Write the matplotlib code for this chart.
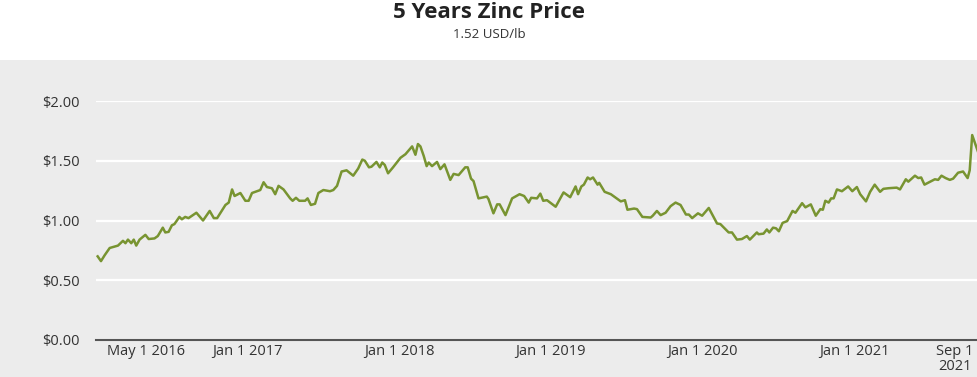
import numpy as np
import pandas as pd
import matplotlib
matplotlib.use('Agg')
import matplotlib.pyplot as plt
from matplotlib.patches import Rectangle

# weekly-ish zinc price
dates = [
    '2016-01-05', '2016-01-13', '2016-01-22', '2016-02-03', '2016-02-23', '2016-03-06',
    '2016-03-12', '2016-03-18', '2016-03-26', '2016-04-01', '2016-04-07', '2016-04-15',
    '2016-04-29', '2016-05-07', '2016-05-21', '2016-05-29', '2016-06-10', '2016-06-16',
    '2016-06-24', '2016-07-02', '2016-07-08', '2016-07-20', '2016-07-26', '2016-08-03',
    '2016-08-11', '2016-08-30', '2016-09-15', '2016-10-01', '2016-10-11', '2016-10-19',
    '2016-11-08', '2016-11-16', '2016-11-24', '2016-11-30', '2016-12-14', '2016-12-26',
    '2017-01-03', '2017-01-11', '2017-01-31', '2017-02-08', '2017-02-16', '2017-02-28',
    '2017-03-08', '2017-03-16', '2017-03-28', '2017-04-13', '2017-04-19', '2017-04-27',
    '2017-05-05', '2017-05-19', '2017-05-25', '2017-06-02', '2017-06-12', '2017-06-20',
    '2017-07-02', '2017-07-18', '2017-07-26', '2017-08-04', '2017-08-15', '2017-08-27',
    '2017-09-12', '2017-09-24', '2017-10-04', '2017-10-10', '2017-10-20', '2017-10-26',
    '2017-11-07', '2017-11-15', '2017-11-21', '2017-11-27', '2017-12-05', '2017-12-17',
    '2018-01-04', '2018-01-16', '2018-02-01', '2018-02-09', '2018-02-15', '2018-02-21',
    '2018-03-01', '2018-03-08', '2018-03-13', '2018-03-21', '2018-04-02', '2018-04-10',
    '2018-04-20', '2018-05-04', '2018-05-12', '2018-05-24', '2018-06-09', '2018-06-15',
    '2018-06-23', '2018-06-29', '2018-07-11', '2018-07-31', '2018-08-04', '2018-08-16',
    '2018-08-25', '2018-08-31', '2018-09-14', '2018-09-30', '2018-10-18', '2018-10-29',
    '2018-11-09', '2018-11-15', '2018-11-29', '2018-12-07', '2018-12-14', '2018-12-23',
    '2019-01-13', '2019-02-01', '2019-02-17', '2019-03-02', '2019-03-08', '2019-03-16',
    '2019-03-22', '2019-03-31', '2019-04-06', '2019-04-13', '2019-04-24', '2019-04-28',
    '2019-05-11', '2019-05-26', '2019-06-19', '2019-06-29', '2019-07-05', '2019-07-21',
    '2019-07-28', '2019-08-10', '2019-08-30', '2019-09-04', '2019-09-14', '2019-09-23',
    '2019-10-05', '2019-10-17', '2019-10-29', '2019-11-10', '2019-11-23', '2019-11-30',
    '2019-12-08', '2019-12-22', '2020-01-01', '2020-01-17', '2020-01-27', '2020-02-06',
    '2020-02-14', '2020-03-05', '2020-03-13', '2020-03-25', '2020-04-06', '2020-04-18',
    '2020-04-25', '2020-05-12', '2020-05-16', '2020-05-28', '2020-06-05', '2020-06-11',
    '2020-06-20', '2020-06-27', '2020-07-04', '2020-07-13', '2020-07-24', '2020-08-06',
    '2020-08-13', '2020-08-29', '2020-09-06', '2020-09-19', '2020-10-01', '2020-10-12',
    '2020-10-18', '2020-10-24', '2020-11-01', '2020-11-07', '2020-11-13', '2020-11-21',
    '2020-12-03', '2020-12-18', '2020-12-28', '2021-01-08', '2021-01-16', '2021-01-30',
    '2021-02-09', '2021-02-20', '2021-03-05', '2021-03-13', '2021-03-25', '2021-04-14',
    '2021-04-22', '2021-05-06', '2021-05-12', '2021-05-28', '2021-06-05', '2021-06-12',
    '2021-06-20', '2021-07-15', '2021-07-23', '2021-07-31', '2021-08-10', '2021-08-20',
    '2021-08-28', '2021-09-09', '2021-09-21', '2021-10-02', '2021-10-07', '2021-10-13',
    '2021-10-27',
]
prices = [
    0.70, 0.66, 0.71, 0.77, 0.79, 0.83,
    0.81, 0.84, 0.81, 0.84, 0.79, 0.84,
    0.88, 0.845, 0.85, 0.87, 0.94, 0.90,
    0.905, 0.96, 0.97, 1.03, 1.01, 1.03,
    1.02, 1.065, 1.00, 1.08, 1.02, 1.02,
    1.13, 1.15, 1.26, 1.205, 1.23, 1.165,
    1.165, 1.23, 1.255, 1.32, 1.28, 1.27,
    1.22, 1.29, 1.26, 1.185, 1.165, 1.19,
    1.165, 1.165, 1.185, 1.13, 1.14, 1.23,
    1.255, 1.245, 1.255, 1.29, 1.41, 1.42,
    1.375, 1.435, 1.51, 1.50, 1.445, 1.45,
    1.49, 1.445, 1.485, 1.465, 1.395, 1.445,
    1.525, 1.555, 1.62, 1.55, 1.64, 1.62,
    1.54, 1.455, 1.485, 1.455, 1.49, 1.43,
    1.47, 1.34, 1.39, 1.38, 1.445, 1.445,
    1.35, 1.33, 1.185, 1.20, 1.18, 1.06,
    1.135, 1.135, 1.045, 1.185, 1.22, 1.205,
    1.15, 1.19, 1.185, 1.225, 1.165, 1.17,
    1.115, 1.235, 1.195, 1.285, 1.22, 1.285,
    1.30, 1.36, 1.345, 1.36, 1.30, 1.315,
    1.24, 1.22, 1.16, 1.17, 1.09, 1.10,
    1.095, 1.03, 1.025, 1.04, 1.08, 1.045,
    1.065, 1.12, 1.15, 1.13, 1.05, 1.05,
    1.02, 1.06, 1.04, 1.105, 1.04, 0.975,
    0.97, 0.90, 0.90, 0.84, 0.845, 0.87,
    0.84, 0.90, 0.885, 0.89, 0.925, 0.90,
    0.94, 0.935, 0.91, 0.98, 0.995, 1.08,
    1.065, 1.145, 1.11, 1.135, 1.04, 1.095,
    1.09, 1.165, 1.15, 1.185, 1.185, 1.26,
    1.245, 1.285, 1.245, 1.28, 1.22, 1.16,
    1.24, 1.30, 1.24, 1.265, 1.27, 1.275,
    1.26, 1.345, 1.325, 1.375, 1.355, 1.36,
    1.30, 1.345, 1.34, 1.375, 1.355, 1.34,
    1.35, 1.40, 1.41, 1.355, 1.42, 1.715,
    1.575,
]
tick_dates = ['2016-05-01', '2017-01-01', '2018-01-01', '2019-01-01',
              '2020-01-01', '2021-01-01', '2021-09-01']
tick_labels = ['May 1 2016', 'Jan 1 2017', 'Jan 1 2018', 'Jan 1 2019',
               'Jan 1 2020', 'Jan 1 2021', 'Sep 1\n2021']
y_ticks = [0, 0.5, 1.0, 1.5, 2.0]

title = '5 Years Zinc Price'
subtitle = '1.52 USD/lb'

plt.rcParams['font.family'] = ['Open Sans', 'DejaVu Sans']

x = pd.to_datetime(dates)

fig = plt.figure(figsize=(9.78, 3.77), dpi=100)
fig.patch.set_facecolor('white')
# grey panel behind the chart
fig.patches.append(Rectangle((0, 0), 1, 317 / 377, transform=fig.transFigure,
                             facecolor='#ececec', edgecolor='none', zorder=-5))

fig.text(0.5, 1 - 13 / 377, title, ha='center', va='center', fontsize=16,
         fontweight='bold', color='#222222')
fig.text(0.5, 1 - 34 / 377, subtitle, ha='center', va='center', fontsize=9.5,
         color='#333333')

ax = fig.add_axes([96 / 978, 37 / 377, 882 / 978, (340 - 101) / 377])
ax.set_zorder(2)
ax.set_facecolor('none')
ax.plot(x, prices, color='#789431', linewidth=1.8, zorder=3)

ax.set_ylim(0, 2.0)
ax.set_xlim(pd.Timestamp('2016-01-01'), pd.Timestamp('2021-10-27'))
ax.set_yticks(y_ticks)
ax.set_yticklabels(['$%.2f' % v for v in y_ticks])
ax.set_xticks(pd.to_datetime(tick_dates))
ax.set_xticklabels(tick_labels, linespacing=1.0)
ax.tick_params(axis='both', length=0, labelsize=10.5, colors='#333333')
ax.tick_params(axis='y', pad=12)
ax.tick_params(axis='x', pad=3)

ax.grid(axis='y', color='white', linewidth=1.6, zorder=1)
ax.set_axisbelow(True)
for s in ['top', 'right', 'left']:
    ax.spines[s].set_visible(False)
ax.spines['bottom'].set_color('#555555')
ax.spines['bottom'].set_linewidth(1.5)
ax.spines['bottom'].set_zorder(4)

fig.savefig('out.png', dpi=100)
